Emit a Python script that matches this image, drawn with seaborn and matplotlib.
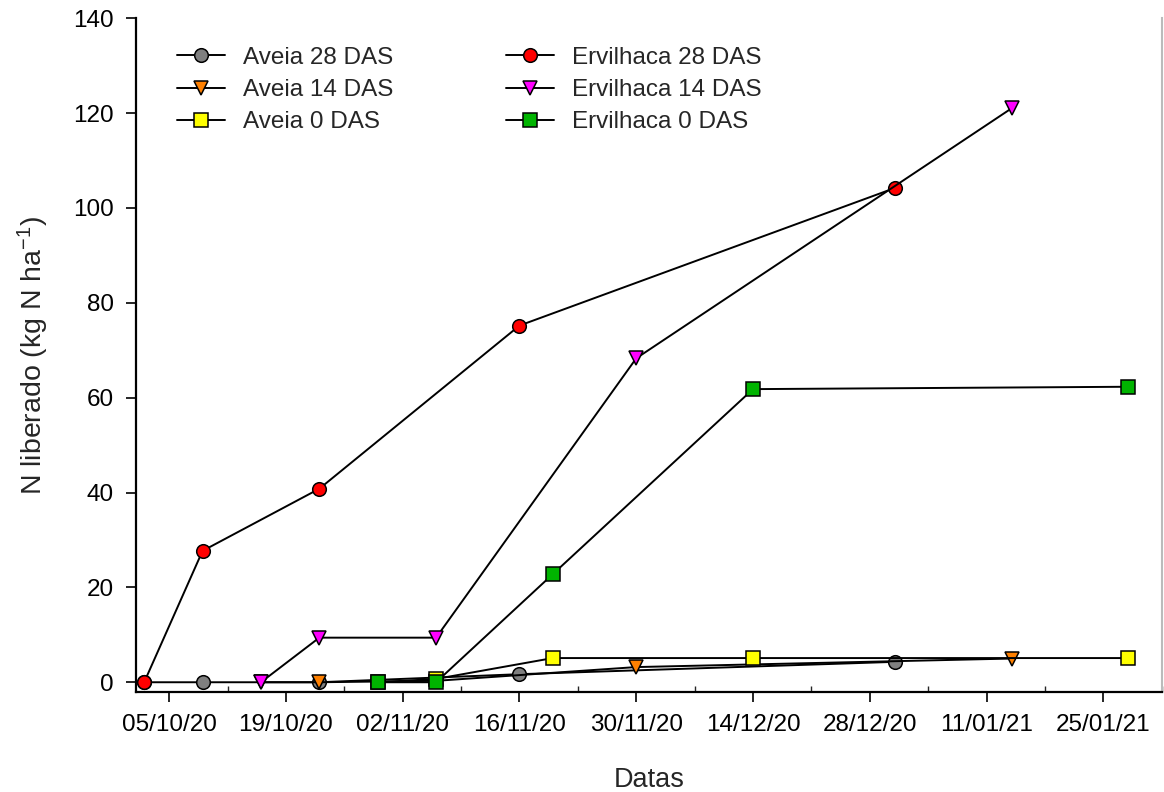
import pandas as pd
import matplotlib
matplotlib.use("Agg")
import matplotlib.pyplot as plt
import matplotlib.dates as mdates
import seaborn as sns

# Sampling dates per start of decomposition
datas_28 = ["02/10/2020", "09/10/2020", "23/10/2020", "16/11/2020", "31/12/2020"]
datas_14 = ["16/10/2020", "23/10/2020", "06/11/2020", "30/11/2020", "14/01/2021"]
datas_0 = ["30/10/2020", "06/11/2020", "20/11/2020", "14/12/2020", "28/01/2021"]

# N released (kg N ha-1)
aveia_28 = [0, 0, 0, 1.7, 4.3]
aveia_14 = [0, 0, 0.3, 3.2, 5.0]
aveia_0 = [0, 0.7, 5.1, 5.1, 5.1]
ervilhaca_28 = [0, 27.7, 40.8, 75.2, 104.2]
ervilhaca_14 = [0, 9.4, 9.4, 68.3, 121.0]
ervilhaca_0 = [0, 0, 22.8, 61.8, 62.3]

series = [
    ("Aveia 28 DAS", datas_28, aveia_28, "o", "#808080"),
    ("Aveia 14 DAS", datas_14, aveia_14, "v", "#FF8000"),
    ("Aveia 0 DAS", datas_0, aveia_0, "s", "#FFFF00"),
    ("Ervilhaca 28 DAS", datas_28, ervilhaca_28, "o", "#FF0000"),
    ("Ervilhaca 14 DAS", datas_14, ervilhaca_14, "v", "#FF00FF"),
    ("Ervilhaca 0 DAS", datas_0, ervilhaca_0, "s", "#00B400"),
]

sns.set_style("white")
plt.rcParams["font.family"] = ["Liberation Sans", "DejaVu Sans"]
plt.rcParams["mathtext.default"] = "regular"

fig = plt.figure(figsize=(11.64, 7.92), dpi=100)
ax = fig.add_axes([0.117, 0.126, 0.881, 0.851])

for nome, datas, valores, marca, cor in series:
    df = pd.DataFrame({"Data": pd.to_datetime(datas, dayfirst=True), "N": valores})
    sns.lineplot(data=df, x="Data", y="N", ax=ax, color="black", linewidth=1.4,
                 marker=marca, markersize=10.5 if marca == "v" else 9.8,
                 markerfacecolor=cor, markeredgecolor="black", markeredgewidth=1.1,
                 label=nome, estimator=None, sort=False)

ax.set_xlim(pd.Timestamp("2020-10-01 01:00"), pd.Timestamp("2021-01-31 17:00"))
ax.set_ylim(-2.1, 140)
ax.set_yticks(range(0, 141, 20))

ax.set_xticks(pd.date_range("2020-10-05", periods=9, freq="14D"))
ax.set_xticks(pd.date_range("2020-10-12", periods=9, freq="14D"), minor=True)
ax.xaxis.set_major_formatter(mdates.DateFormatter("%d/%m/%y"))

ax.tick_params(axis="both", which="major", direction="out", length=7, width=1.2,
               labelsize=17.5, colors="black", bottom=True, left=True)
ax.tick_params(axis="x", which="major", pad=9)
ax.tick_params(axis="y", which="major", pad=9)
ax.tick_params(axis="x", which="minor", direction="in", length=4, width=1, bottom=True)

for lado in ["left", "bottom"]:
    ax.spines[lado].set_color("black")
    ax.spines[lado].set_linewidth(1.6)
ax.spines["right"].set_color("#BBBBBB")
ax.spines["right"].set_linewidth(1.5)
ax.spines["top"].set_visible(False)

ax.set_xlabel("Datas", fontsize=19.5, labelpad=22)
ax.set_ylabel("N liberado (kg N ha$^{-1}$)", fontsize=20.5, labelpad=16)

ax.legend(ncol=2, frameon=False, fontsize=17.5, loc="upper left",
          bbox_to_anchor=(0.018, 0.99), columnspacing=4.6, handlelength=2.0,
          labelspacing=0.42, handletextpad=0.75, borderpad=0.4)

fig.savefig("out.png", dpi=100)
